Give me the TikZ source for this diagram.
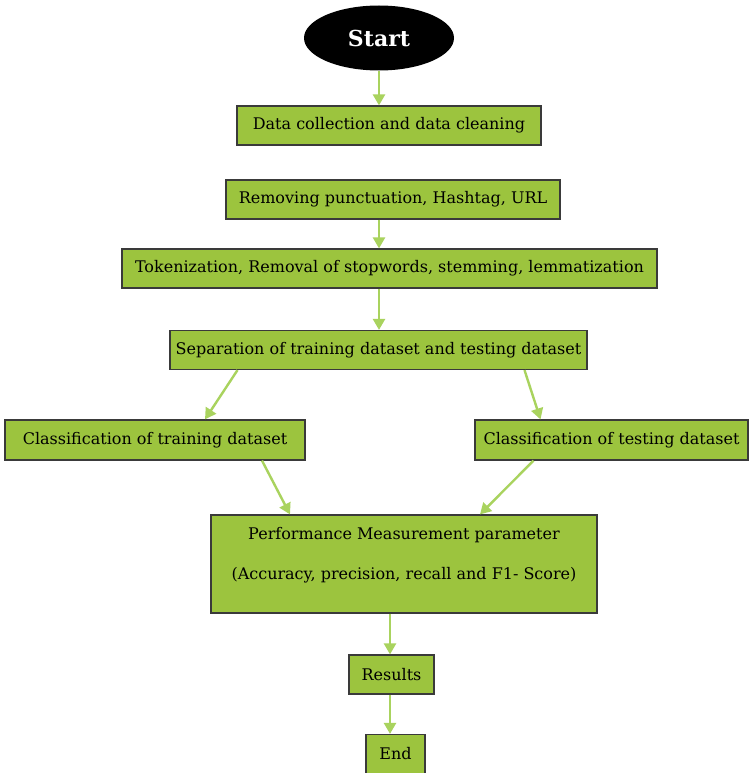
\documentclass[tikz,border=0pt]{standalone}
\usepackage{fontspec}
\setmainfont{DejaVu Serif}
\usetikzlibrary{arrows.meta,shapes.geometric,calc}
\definecolor{boxgreen}{HTML}{9CC43E}
\definecolor{arrgreen}{HTML}{A9D35E}
\definecolor{boxline}{HTML}{3A3A3A}
\begin{document}
\begin{tikzpicture}[x=1pt,y=-1pt,
  box/.style={draw=boxline,line width=1.2pt,fill=boxgreen,inner sep=0pt,align=center,
    font=\fontsize{16}{19}\selectfont,text=black},
  arr/.style={draw=arrgreen,line width=2.4pt,-{Triangle[length=11pt,width=12pt]}}]
\useasboundingbox (0,0) rectangle (750,773);
\fill[white] (0,0) rectangle (750,773);
\node[ellipse,fill=black,minimum width=150pt,minimum height=65pt,inner sep=0pt,
  text=white,font=\fontsize{22}{26}\selectfont\bfseries] (start) at (379,38) {Start};
\node[box,minimum width=304pt,minimum height=39pt] (dc) at (389,125.5) {Data collection and data cleaning};
\node[box,minimum width=334pt,minimum height=39pt] (rp) at (393,199.5) {Removing punctuation, Hashtag, URL};
\node[box,minimum width=535pt,minimum height=39pt] (tok) at (389.5,268.5) {Tokenization, Removal of stopwords, stemming, lemmatization};
\node[box,minimum width=417pt,minimum height=39pt] (sep) at (378.5,350) {Separation of training dataset and testing dataset};
\node[box,minimum width=300pt,minimum height=40pt] (ctr) at (155,440) {Classification of training dataset};
\node[box,minimum width=273pt,minimum height=40pt] (cte) at (611.5,440) {Classification of testing dataset};
\node[box,minimum width=386pt,minimum height=98pt] (perf) at (404,564)
  {\begin{tabular}{@{}c@{}}Performance Measurement parameter\\[21pt](Accuracy, precision, recall and F1- Score)\\[16pt]\end{tabular}};
\node[box,minimum width=85pt,minimum height=39pt] (res) at (391.5,674.5) {Results};
\node[box,minimum width=59pt,minimum height=39pt] (end) at (395.5,754) {End};
\draw[arr] (start.south) -- (start.south |- dc.north);
\draw[arr] (rp.south -| start) -- (tok.north -| start);
\draw[arr] (tok.south -| start) -- (sep.north -| start);
\draw[arr] ([xshift=-141pt]sep.south) -- ([xshift=50pt]ctr.north);
\draw[arr] ([xshift=146pt]sep.south) -- ([xshift=-71pt]cte.north);
\draw[arr] ([xshift=107pt]ctr.south) -- ([xshift=-114pt]perf.north);
\draw[arr] ([xshift=-78pt]cte.south) -- ([xshift=76pt]perf.north);
\draw[arr] ([xshift=-1.5pt]perf.south -| res) -- ([xshift=-1.5pt]res.north);
\draw[arr] ([xshift=-1.5pt]res.south) -- ([xshift=-1.5pt]res.south |- end.north);
\end{tikzpicture}
\end{document}
